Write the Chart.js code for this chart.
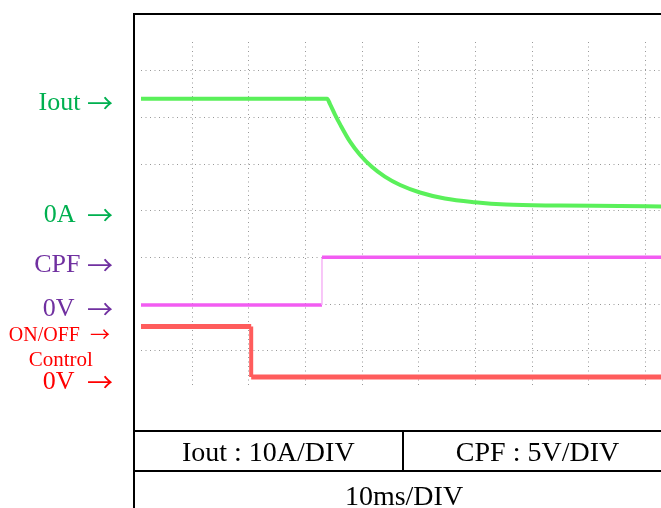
<!DOCTYPE html>
<html>
<head>
<title>Iout / CPF waveform</title>
<script src="https://cdn.jsdelivr.net/npm/chart.js"></script>
<style>
  body { margin: 0; width: 661px; height: 508px; overflow: hidden; background: #fff; position: relative;
         font-family: 'Liberation Serif', 'Times New Roman', serif; }
  #scope { position: absolute; left: 0; top: 0; }
  .line { position: absolute; background: #000; }
  .lbl { position: absolute; line-height: 1; white-space: pre; }
  .side { right: 548px; text-align: right; font-size: 26px; }
  .arr { font-family: 'Noto Sans CJK JP', sans-serif; line-height: 0; position: relative; top: 3px; }
  .small .arr { top: 1px; }
  .green { color: #00b050; }
  .purple { color: #7030a0; }
  .red { color: #ff0000; }
  .cell { font-size: 28px; text-align: center; color: #000; }
</style>
</head>
<body>
  <canvas id="scope" width="661" height="508"></canvas>

  <!-- frame and the two table rows under the screen -->
  <div class="line" style="left:133px; top:13px; width:540px; height:2px;"></div>
  <div class="line" style="left:133px; top:13px; width:2px; height:500px;"></div>
  <div class="line" style="left:133px; top:430px; width:540px; height:2px;"></div>
  <div class="line" style="left:133px; top:470px; width:540px; height:2px;"></div>
  <div class="line" style="left:402px; top:430px; width:2px; height:42px;"></div>

  <div class="lbl side green" style="top:89px;">Iout <span class="arr">→</span></div>
  <div class="lbl side green" style="top:201px;">0A  <span class="arr">→</span></div>
  <div class="lbl side purple" style="top:251px;">CPF <span class="arr">→</span></div>
  <div class="lbl side purple" style="top:295px;">0V  <span class="arr">→</span></div>
  <div class="lbl red small" style="right:551px; top:323.5px; font-size:20px; text-align:right;">ON/OFF  <span class="arr">→</span></div>
  <div class="lbl red" style="left:0; width:121.6px; top:349px; font-size:21px; text-align:center;">Control</div>
  <div class="lbl side red" style="top:368px;">0V  <span class="arr">→</span></div>

  <div class="lbl cell" style="left:134px; width:268.6px; top:438px;">Iout : 10A/DIV</div>
  <div class="lbl cell" style="left:403px; width:269px; top:438px;">CPF : 5V/DIV</div>
  <div class="lbl cell" style="left:134px; width:540px; top:481.5px;">10ms/DIV</div>

  <script>
    // time base 10 ms/div, all times in ms
    const timeTicks = [10, 20, 30, 40, 50, 60, 70, 80, 90];
    const divTicks = [0, 1, 2, 3, 4, 5, 6];

    // Iout in A (10 A/div)
    const ioutT = [0.9, 33.8, 34.3, 35.2, 36.1, 37.85, 39.6, 41.7, 44.0, 46.7, 50.2, 54.6, 59.9, 65.4, 74.9, 85.5, 92.8];
    const ioutA = [24.0, 24.0, 22.9, 20.6, 18.5, 14.8, 12.0, 9.4, 7.3, 5.5, 3.9, 2.6, 1.8, 1.3, 1.1, 1.0, 0.9];

    // CPF in V (5 V/div)
    const cpfT = [0.9, 32.9, 32.9, 92.8];
    const cpfV = [-0.1, -0.1, 5.0, 5.0];

    // ON/OFF control in V
    const ctrlT = [0.9, 20.4, 20.4, 92.8];
    const ctrlV = [5.4, 5.4, 0, 0];

    // visible window of the screen, in ms and in divisions
    const X_MIN = 0.94, X_MAX = 92.77;
    const DIV_MIN = -0.8, DIV_MAX = 6.615;

    function pairs(xs, ys) {
      return xs.map((x, i) => ({ x: x, y: ys[i] }));
    }

    // each channel has its own zero line and amps/volts per division
    function channelAxis(zeroDiv, perDiv) {
      return { display: false, min: (DIV_MIN - zeroDiv) * perDiv, max: (DIV_MAX - zeroDiv) * perDiv };
    }

    const vertical = ctx => ctx.p0.parsed.x === ctx.p1.parsed.x;

    const gridStyle = { color: 'rgba(110,110,110,0.7)', lineWidth: 1, drawTicks: false };

    new Chart(document.getElementById('scope'), {
      type: 'line',
      data: {
        datasets: [
          {
            label: 'Iout',
            data: pairs(ioutT, ioutA),
            yAxisID: 'yI',
            borderColor: '#5af05a',
            borderWidth: 4,
            pointRadius: 0,
            cubicInterpolationMode: 'monotone'
          },
          {
            label: 'CPF',
            data: pairs(cpfT, cpfV),
            yAxisID: 'yV',
            borderColor: '#f25cf2',
            borderWidth: 3.5,
            pointRadius: 0,
            segment: {
              borderColor: ctx => vertical(ctx) ? '#f6b4f6' : undefined,
              borderWidth: ctx => vertical(ctx) ? 1.5 : undefined
            }
          },
          {
            label: 'ON/OFF Control',
            data: pairs(ctrlT, ctrlV),
            yAxisID: 'yC',
            borderColor: '#ff5c5c',
            borderWidth: 5,
            pointRadius: 0,
            segment: {
              borderWidth: ctx => vertical(ctx) ? 4 : undefined
            }
          }
        ]
      },
      options: {
        responsive: false,
        animation: false,
        layout: { padding: { left: 141, right: 0, top: 42, bottom: 120 } },
        plugins: { legend: { display: false }, tooltip: { enabled: false } },
        scales: {
          x: {
            type: 'linear',
            min: X_MIN,
            max: X_MAX,
            grid: gridStyle,
            border: { display: false, dash: [1, 3.5] },
            ticks: { display: false },
            afterBuildTicks: axis => { axis.ticks = timeTicks.map(v => ({ value: v })); }
          },
          y: {
            type: 'linear',
            min: DIV_MIN,
            max: DIV_MAX,
            grid: gridStyle,
            border: { display: false, dash: [1, 3.5] },
            ticks: { display: false },
            afterBuildTicks: axis => { axis.ticks = divTicks.map(v => ({ value: v })); }
          },
          yI: channelAxis(3, 10),
          yV: channelAxis(1, 5),
          yC: channelAxis(-0.5636, 5)
        }
      }
    });
  </script>
</body>
</html>
